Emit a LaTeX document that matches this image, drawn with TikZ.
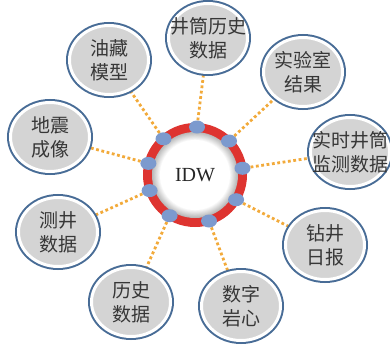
\documentclass[tikz,border=0pt]{standalone}
\usepackage{fontspec}
\setmainfont{Liberation Serif}
\newfontfamily\cjk{Noto Sans CJK SC}
\usetikzlibrary{shapes.geometric}
\pgfdeclarelayer{background}
\pgfsetlayers{background,main}
\definecolor{ringred}{RGB}{222,52,48}
\definecolor{dotblue}{RGB}{124,154,206}
\definecolor{edgeblue}{RGB}{72,108,150}
\definecolor{satgray}{RGB}{212,212,212}
\definecolor{linkorange}{RGB}{242,170,58}
\definecolor{txtgray}{RGB}{55,55,55}
\tikzset{
  sat/.style={ellipse, inner sep=0pt, minimum width=79pt, minimum height=69pt,
    fill=satgray, draw=white, line width=3pt,
    preaction={draw=edgeblue, line width=7pt}},
  lbl/.style={align=center, text=txtgray, font=\cjk\fontsize{19}{24}\selectfont, inner sep=0pt},
  ringdot/.style={ellipse, inner sep=0pt, minimum width=16pt, minimum height=13pt, fill=dotblue},
  link/.style={draw=linkorange, line width=2.8pt, dash pattern=on 2.8pt off 2.6pt}
}
\begin{document}
\begin{tikzpicture}[x=1pt,y=-1pt]
\useasboundingbox (0,0) rectangle (390,345);
\clip (0,0) rectangle (390,345);
% central ring
\fill[ringred] (195,175) circle (52);
\foreach \i in {0,...,10}{
  \pgfmathsetmacro{\rr}{43-0.8*\i}
  \pgfmathsetmacro{\pp}{55-5.5*\i}
  \fill[gray!\pp!white] (195,175) circle (\rr);
}
\node[font=\fontsize{20}{22}\selectfont, text=black!85] (idw) at (195,175) {IDW};
% dots on ring
\node[ringdot] (d1) at (197,127) {};
\node[ringdot] (d2) at (163.5,138.8) {};
\node[ringdot] (d3) at (229,141) {};
\node[ringdot] (d4) at (148.4,163.4) {};
\node[ringdot] (d5) at (242.5,168.3) {};
\node[ringdot] (d6) at (149.6,190.6) {};
\node[ringdot] (d7) at (236.1,199.7) {};
\node[ringdot] (d8) at (169.6,215.7) {};
\node[ringdot] (d9) at (209,221) {};
% satellites
\node[sat, label={[lbl]center:油藏\\模型}] (s1) at (109,60) {};
\node[sat, label={[lbl]center:井筒历史\\数据}] (s2) at (208,38) {};
\node[sat, label={[lbl]center:实验室\\结果}] (s3) at (303,72) {};
\node[sat, label={[lbl]center:实时井筒\\监测数据}] (s4) at (350,152) {};
\node[sat, label={[lbl]center:钻井\\日报}] (s5) at (325,245) {};
\node[sat, label={[lbl]center:数字\\岩心}] (s6) at (241,306) {};
\node[sat, label={[lbl]center:历史\\数据}] (s7) at (131,302) {};
\node[sat, label={[lbl]center:测井\\数据}] (s8) at (58,232) {};
\node[sat, label={[lbl]center:地震\\成像}] (s9) at (50,137) {};
\begin{pgfonlayer}{background}
\draw[link] (d1) -- (s2);
\draw[link] (d2) -- (s1);
\draw[link] (d3) -- (s3);
\draw[link] (d4) -- (s9);
\draw[link] (d5) -- (s4);
\draw[link] (d6) -- (s8);
\draw[link] (d7) -- (s5);
\draw[link] (d8) -- (s7);
\draw[link] (d9) -- (s6);
\end{pgfonlayer}
\end{tikzpicture}
\end{document}
